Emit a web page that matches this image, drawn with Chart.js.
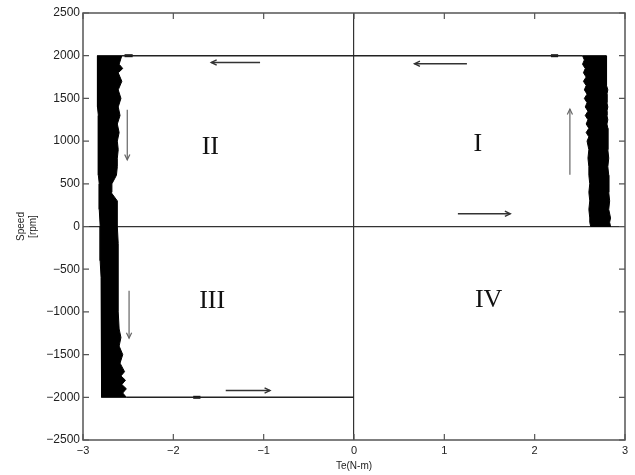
<!DOCTYPE html>
<html>
<head>
<meta charset="utf-8">
<script src="https://cdn.jsdelivr.net/npm/chart.js@4"></script>
<style>
  body{margin:0;background:#fff;}
  #wrap{width:635px;height:475px;position:relative;}
</style>
</head>
<body>
<div id="wrap"><canvas id="c"></canvas></div>
<script>
// ================= DATA =================
const xTicks = [-3, -2, -1, 0, 1, 2, 3];
const yTicks = [-2500, -2000, -1500, -1000, -500, 0, 500, 1000, 1500, 2000, 2500];

// quadrant I band (motoring, speed 0 -> 2000)
const bandRY     = [0, 50, 100, 200, 300, 400, 500, 600, 700, 800, 900, 1000, 1050, 1100, 1150, 1200, 1250, 1300, 1350, 1400, 1450, 1500, 1550, 1600, 1650, 1700, 1750, 1800, 1850, 1900, 1950, 2000];
const bandRInner = [2.62, 2.61, 2.61, 2.60, 2.61, 2.60, 2.61, 2.60, 2.60, 2.59, 2.60, 2.58, 2.60, 2.57, 2.60, 2.57, 2.59, 2.56, 2.59, 2.56, 2.58, 2.55, 2.58, 2.55, 2.57, 2.54, 2.57, 2.54, 2.56, 2.53, 2.55, 2.53];
const bandROuter = [2.84, 2.83, 2.84, 2.82, 2.83, 2.82, 2.82, 2.82, 2.81, 2.82, 2.81, 2.81, 2.81, 2.81, 2.81, 2.80, 2.81, 2.80, 2.80, 2.81, 2.80, 2.80, 2.80, 2.81, 2.80, 2.80, 2.80, 2.79, 2.80, 2.79, 2.79, 2.79];

// quadrant II / III band (speed 2000 -> -2000)
const bandLY     = [2000, 1900, 1850, 1800, 1700, 1600, 1500, 1400, 1300, 1200, 1100, 1000, 900, 800, 700, 600, 500, 400, 300, 200, 0, -200, -400, -600, -800, -1000, -1200, -1300, -1400, -1500, -1600, -1700, -1750, -1800, -1850, -1900, -1950, -2000];
const bandLOuter = [-2.84, -2.84, -2.84, -2.84, -2.84, -2.84, -2.84, -2.84, -2.83, -2.83, -2.83, -2.83, -2.83, -2.83, -2.83, -2.83, -2.82, -2.82, -2.82, -2.82, -2.81, -2.81, -2.81, -2.80, -2.80, -2.80, -2.80, -2.80, -2.80, -2.80, -2.79, -2.79, -2.79, -2.79, -2.79, -2.79, -2.79, -2.79];
const bandLInner = [-2.57, -2.60, -2.56, -2.61, -2.57, -2.61, -2.58, -2.61, -2.59, -2.62, -2.60, -2.62, -2.61, -2.62, -2.62, -2.63, -2.68, -2.69, -2.62, -2.62, -2.62, -2.61, -2.61, -2.61, -2.61, -2.61, -2.60, -2.58, -2.60, -2.56, -2.59, -2.54, -2.58, -2.53, -2.57, -2.52, -2.56, -2.52];

// constant speed segments
const pathX0 = [-2.57, -2.52];
const pathX1 = [2.53, 0];
const pathY  = [2000, -2000];

// short heavier blips on those segments
const blipX0 = [-2.54, 2.18, -1.78];
const blipX1 = [-2.45, 2.26, -1.70];
const blipY  = [2000, 2000, -2000];

// direction arrows
const arrowX0 = [1.25, 1.15, 2.39, -1.04, -2.51, -2.49, -1.42];
const arrowY0 = [1906, 149, 606, 1921, 1367, -753, -1921];
const arrowX1 = [0.67, 1.73, 2.39, -1.58, -2.51, -2.49, -0.93];
const arrowY1 = [1906, 149, 1375, 1921, 781, -1308, -1921];

// quadrant labels
const quadText = ["I", "II", "III", "IV"];
const quadX = [1.37, -1.59, -1.57, 1.49];
const quadY = [969, 934, -879, -859];

// ================= BUILD =================
const fmt = v => v < 0 ? "\u2212" + Math.abs(v) : String(v);

function bandPoints(ys, a, b){
  const pts = ys.map((y,i)=>({x:a[i], y}));
  for(let i=ys.length-1;i>=0;i--) pts.push({x:b[i], y:ys[i]});
  pts.push(pts[0]);
  return pts;
}

const datasets = [];
datasets.push({data:bandPoints(bandRY,bandRInner,bandROuter), borderColor:"#000", backgroundColor:"#000", borderWidth:1, fill:"shape"});
datasets.push({data:bandPoints(bandLY,bandLOuter,bandLInner), borderColor:"#000", backgroundColor:"#000", borderWidth:1, fill:"shape"});
pathY.forEach((y,i)=>{
  datasets.push({data:[{x:pathX0[i],y},{x:pathX1[i],y}], borderColor:"#222", borderWidth:1.6});
});
blipY.forEach((y,i)=>{
  datasets.push({data:[{x:blipX0[i],y},{x:blipX1[i],y}], borderColor:"#111", borderWidth:3});
});
arrowY0.forEach((y,i)=>{
  const vert = arrowX0[i] === arrowX1[i];
  datasets.push({data:[{x:arrowX0[i],y:arrowY0[i]},{x:arrowX1[i],y:arrowY1[i]}],
    borderColor: vert ? "#666" : "#333", borderWidth: vert ? 1.2 : 1.4, arrow:true});
});

// ================= PLUGIN =================
const decor = {
  id:"decor",
  afterDatasetsDraw(chart){
    const {ctx, chartArea:a, scales:{x,y}} = chart;
    ctx.save();
    // box
    ctx.strokeStyle="#555"; ctx.lineWidth=1.5;
    ctx.strokeRect(a.left,a.top,a.right-a.left,a.bottom-a.top);
    // inside ticks, all four sides
    ctx.lineWidth=1.2;
    ctx.beginPath();
    x.ticks.forEach(t=>{
      const px=x.getPixelForValue(t.value);
      ctx.moveTo(px,a.bottom); ctx.lineTo(px,a.bottom-6);
      ctx.moveTo(px,a.top); ctx.lineTo(px,a.top+6);
    });
    y.ticks.forEach(t=>{
      const py=y.getPixelForValue(t.value);
      ctx.moveTo(a.left,py); ctx.lineTo(a.left+6,py);
      ctx.moveTo(a.right,py); ctx.lineTo(a.right-6,py);
    });
    ctx.stroke();
    // arrow heads
    chart.data.datasets.forEach(ds=>{
      if(!ds.arrow) return;
      const p0=ds.data[0], p1=ds.data[1];
      const x0=x.getPixelForValue(p0.x), y0=y.getPixelForValue(p0.y);
      const x1=x.getPixelForValue(p1.x), y1=y.getPixelForValue(p1.y);
      const ang=Math.atan2(y1-y0,x1-x0), L=6, w=0.45;
      ctx.strokeStyle=ds.borderColor; ctx.lineWidth=ds.borderWidth;
      ctx.beginPath();
      ctx.moveTo(x1-L*Math.cos(ang-w), y1-L*Math.sin(ang-w));
      ctx.lineTo(x1,y1);
      ctx.lineTo(x1-L*Math.cos(ang+w), y1-L*Math.sin(ang+w));
      ctx.stroke();
    });
    // quadrant labels
    ctx.fillStyle="#111";
    ctx.font="26px 'Liberation Serif', 'Times New Roman', serif";
    ctx.textAlign="center"; ctx.textBaseline="middle";
    quadText.forEach((t,i)=>{
      ctx.fillText(t, x.getPixelForValue(quadX[i]), y.getPixelForValue(quadY[i]));
    });
    ctx.restore();
  }
};

const sans = "'Liberation Sans', Arial, sans-serif";

new Chart(document.getElementById("c"),{
  type:"scatter",
  data:{datasets},
  options:{
    responsive:true,
    maintainAspectRatio:false,
    devicePixelRatio:1,
    animation:false,
    showLine:true,
    elements:{point:{radius:0}, line:{tension:0}},
    layout:{padding:{top:13,right:10,left:0,bottom:0}},
    plugins:{legend:{display:false}, tooltip:{enabled:false}},
    scales:{
      x:{
        type:"linear", min:-3, max:3,
        afterBuildTicks:s=>{ s.ticks = xTicks.map(v=>({value:v})); },
        afterFit:s=>{ s.height = 35; },
        border:{display:false},
        grid:{drawTicks:false, color:c=>c.tick && c.tick.value===0 ? "#333" : "rgba(0,0,0,0)", lineWidth:1.2},
        ticks:{padding:4, color:"#222", font:{family:sans, size:11}, maxRotation:0, callback:v=>fmt(v)},
        title:{display:true, text:"Te(N-m)", color:"#222", font:{family:sans, size:10, lineHeight:1.2}, padding:{top:0,bottom:3}}
      },
      y:{
        type:"linear", min:-2500, max:2500,
        afterBuildTicks:s=>{ s.ticks = yTicks.map(v=>({value:v})); },
        afterFit:s=>{ s.width = 83; },
        border:{display:false},
        grid:{drawTicks:false, color:c=>c.tick && c.tick.value===0 ? "#333" : "rgba(0,0,0,0)", lineWidth:1.2},
        ticks:{padding:3, color:"#222", font:{family:sans, size:12}, callback:v=>fmt(v)},
        title:{display:true, text:["Speed","[rpm]"], color:"#222", font:{family:sans, size:10, lineHeight:1.2}, padding:{top:15,bottom:0}}
      }
    }
  },
  plugins:[decor]
});
</script>
</body>
</html>
